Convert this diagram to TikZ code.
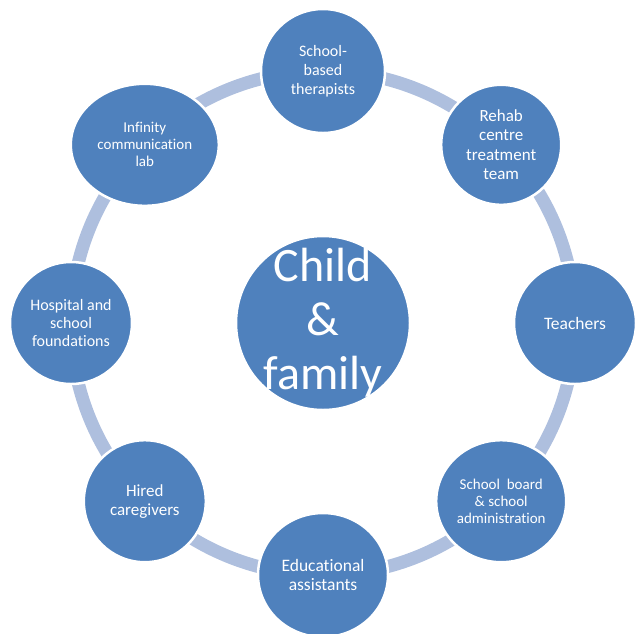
\documentclass[tikz,border=0pt]{standalone}
\usepackage{fontspec}
\setmainfont{Carlito}[Ligatures=NoCommon]
\usetikzlibrary{shapes.geometric,backgrounds}
\definecolor{hubblue}{HTML}{4F81BD}
\definecolor{ringblue}{RGB}{174,191,222}
\begin{document}
\begin{tikzpicture}[x=1pt,y=-1pt,
  member/.style={circle,fill=hubblue,draw=white,line width=2.5pt,text=white,
                 inner sep=0pt,align=center},
  oval/.style={member,ellipse},
  ring/.style={ringblue,line width=13pt},
  fs/.style 2 args={font=\fontsize{#1}{#2}\selectfont}]
\useasboundingbox (0,0) rectangle (636,633);
\clip (0,0) rectangle (636,633);

% centre of the cycle
\node[member,minimum size=174pt] (hub) at (323,323) {};
\node[text=white,align=center,fs={48}{54}] (hubtext) at (323,323) {Child\\\&\\family};

% the eight partners around the ring (radius 252)
\node[member,minimum size=124pt,fs={16}{19}] (sbt) at (323,71) {School-\\based\\therapists};
\node[member,minimum size=120pt,fs={17}{19.3}] (rehab) at (501.2,144.8) {Rehab\\centre\\treatment\\team};
\node[member,minimum size=122pt,fs={17.5}{20}] (teach) at (575,323) {Teachers};
\node[oval,minimum width=130pt,minimum height=122pt,fs={15}{16.7}] (board) at (501.2,501.2) {School~~board\\\& school\\administration};
\node[oval,minimum width=130pt,minimum height=124pt,fs={17.5}{19.3}] (edu) at (323,575) {Educational\\assistants};
\node[member,minimum size=122pt,fs={17}{19}] (hired) at (144.8,501.2) {Hired\\caregivers};
\node[member,minimum size=122pt,fs={16}{18.3}] (hosp) at (71,323) {Hospital and\\school\\foundations};
\node[oval,minimum width=148pt,minimum height=122pt,fs={15}{17}] (lab) at (144.8,144.8) {Infinity\\communication\\lab};

% ring segments joining neighbouring partners
\begin{scope}[on background layer]
  \draw[ring] (sbt.center)   arc[start angle=-90, end angle=-45, radius=252];
  \draw[ring] (rehab.center) arc[start angle=-45, end angle=0,   radius=252];
  \draw[ring] (teach.center) arc[start angle=0,   end angle=45,  radius=252];
  \draw[ring] (board.center) arc[start angle=45,  end angle=90,  radius=252];
  \draw[ring] (edu.center)   arc[start angle=90,  end angle=135, radius=252];
  \draw[ring] (hired.center) arc[start angle=135, end angle=180, radius=252];
  \draw[ring] (hosp.center)  arc[start angle=180, end angle=225, radius=252];
  \draw[ring] (lab.center)   arc[start angle=225, end angle=270, radius=252];
\end{scope}
\end{tikzpicture}
\end{document}
